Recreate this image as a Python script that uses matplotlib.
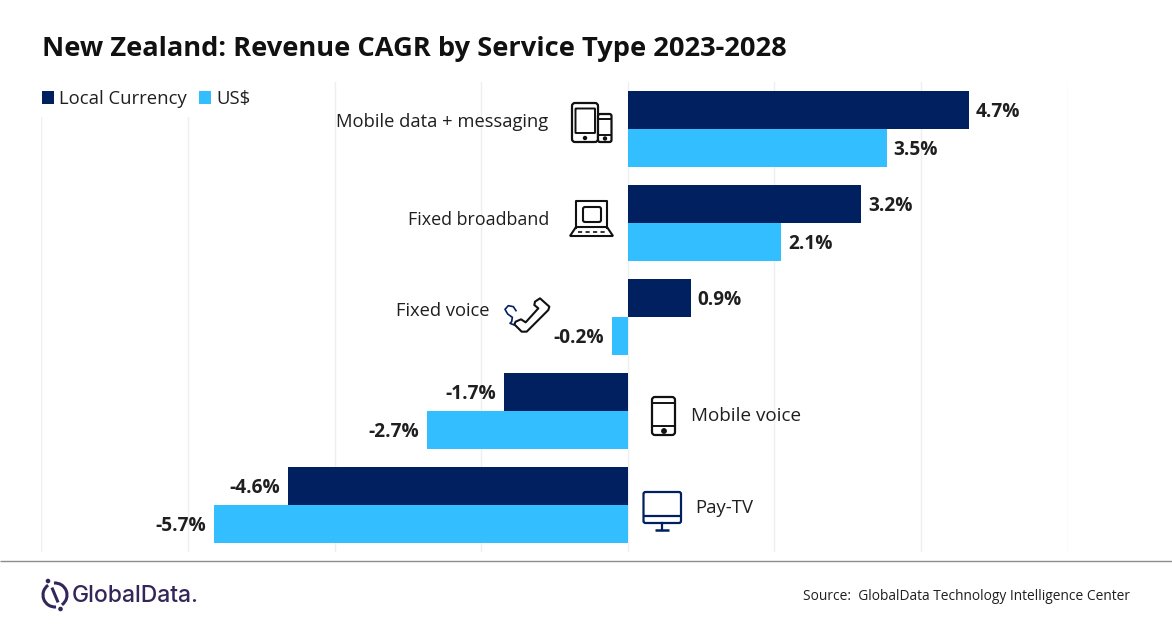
import numpy as np
import matplotlib
matplotlib.use("Agg")
import matplotlib.pyplot as plt
from matplotlib.patches import FancyBboxPatch, Polygon, Circle, Arc, Rectangle

plt.rcParams["font.family"] = ["Open Sans", "DejaVu Sans"]

categories = ["Mobile data + messaging", "Fixed broadband", "Fixed voice", "Mobile voice", "Pay-TV"]
local_currency = [4.65, 3.18, 0.86, -1.69, -4.64]
us_dollar = [3.53, 2.09, -0.22, -2.74, -5.65]
local_labels = ["4.7%", "3.2%", "0.9%", "-1.7%", "-4.6%"]
us_labels = ["3.5%", "2.1%", "-0.2%", "-2.7%", "-5.7%"]

NAVY = "#002060"
SKY = "#33BFFF"
TEXT = "#1f1f1f"
INK = "#111111"

W, H = 1172, 628
fig = plt.figure(figsize=(W / 100, H / 100), dpi=100, facecolor="white")
ax = fig.add_axes([41.4 / W, 1 - 552 / H, (1068.4 - 41.4) / W, (552 - 82) / H])

y = np.arange(len(categories))
bar_h = 38 / 94
b1 = ax.barh(y - bar_h / 2, local_currency, bar_h, color=NAVY, label="Local Currency", zorder=3)
b2 = ax.barh(y + bar_h / 2, us_dollar, bar_h, color=SKY, label="US$", zorder=3)

ax.set_xlim(-8, 6.01)
ax.set_ylim(len(categories) - 0.5, -0.5)
ax.set_xticks(np.arange(-8, 7, 2))
ax.set_yticks([])
ax.tick_params(bottom=False, labelbottom=False)
ax.grid(axis="x", color="#efefef", linewidth=1, zorder=0)
ax.set_axisbelow(True)
for s in ax.spines.values():
    s.set_visible(False)

# legend sits on a white patch that hides the first gridlines
ax.add_patch(Rectangle((30 / W, 1 - 117 / H), 230 / W, 40 / H, transform=fig.transFigure, fc="white", ec="none",
                       zorder=1, clip_on=False))

for bars, labels in ((b1, local_labels), (b2, us_labels)):
    for r, lab in zip(bars, labels):
        v = r.get_width()
        ax.annotate(lab, (v, r.get_y() + r.get_height() / 2 + 0.02), xytext=(5 if v > 0 else -5.5, 0),
                    textcoords="offset points", ha="left" if v > 0 else "right", va="center",
                    fontsize=13.7, fontweight="bold", color=TEXT, zorder=4)

leg = ax.legend(loc="upper left", bbox_to_anchor=(-0.0076, 1.0), ncol=2, frameon=False, fontsize=13.3,
                handlelength=0.68, handleheight=0.68, handletextpad=0.27, columnspacing=0.62,
                borderpad=0.0, borderaxespad=0.45)
for t in leg.get_texts():
    t.set_color(TEXT)

# overlay in image pixels for the title, captions, icons and footer
ov = fig.add_axes([0, 0, 1, 1], zorder=5)
ov.set_xlim(0, W)
ov.set_ylim(H, 0)
ov.axis("off")

ov.text(42, 49, "New Zealand: Revenue CAGR by Service Type 2023-2028", fontsize=19.58, fontweight="bold",
        color="#111111", va="center", ha="left")

ov.text(548, 122, categories[0], fontsize=13.2, color=TEXT, ha="right", va="center")
ov.text(549, 220, categories[1], fontsize=12.9, color=TEXT, ha="right", va="center")
ov.text(489, 311, categories[2], fontsize=13.2, color=TEXT, ha="right", va="center")
ov.text(691, 416, categories[3], fontsize=13.6, color=TEXT, ha="left", va="center")
ov.text(695, 508, categories[4], fontsize=13.3, color=TEXT, ha="left", va="center")


def rbox(x0, y0, x1, y1, r=2, color=INK, lw=1.6, fc="white"):
    ov.add_patch(FancyBboxPatch((x0 + r, y0 + r), x1 - x0 - 2 * r, y1 - y0 - 2 * r,
                                boxstyle="round,pad=%s,rounding_size=%s" % (r, r),
                                fc=fc, ec=color, lw=lw))


def hline(x0, x1, yy, color=INK, lw=1.4, **kw):
    ov.plot([x0, x1], [yy, yy], color=color, lw=lw, solid_capstyle="butt", **kw)


# tablet + phone
rbox(572, 103, 598, 142, r=3)
rbox(575.5, 108.5, 595, 133, r=0.5, lw=1.4)
ov.add_patch(Circle((585, 138), 1.5, color=INK))
rbox(598, 114, 611.5, 142, r=2)
hline(598, 611.5, 118.5)
hline(598, 611.5, 135)
ov.add_patch(Circle((605, 138.5), 1.5, color=INK))

# laptop
ov.plot([576, 576, 607, 607], [228, 201, 201, 228], color=INK, lw=1.5)
rbox(583, 207, 601, 222, r=2, lw=1.5)
ov.add_patch(Polygon([(576, 227), (607, 227), (613, 236), (570, 236)], closed=True, fc="white", ec=INK, lw=1.5))
ov.plot([578, 606], [231.5, 231.5], color=INK, lw=1.2, ls=(0, (2.5, 2)))

# handset with its cord
hand = [(135, 25), (163, 50), (160, 60), (95, 125), (80, 125), (58, 103), (62, 95), (78, 88), (92, 97),
        (130, 55), (118, 45), (120, 35)]
ov.add_patch(Polygon([(495 + a / 3, 290 + b / 3) for a, b in hand], closed=True, fc="white", ec=INK, lw=1.5,
                     joinstyle="round"))
cord = [(63, 62), (55, 50), (40, 47), (30, 58), (38, 72), (52, 82), (50, 95), (45, 100), (58, 105)]
ov.plot([495 + a / 3 for a, b in cord], [290 + b / 3 for a, b in cord], color=NAVY, lw=1.2)

# mobile
rbox(652, 397, 675, 435, r=3)
hline(652, 675, 403)
hline(652, 675, 426)
ov.add_patch(Circle((664, 431), 2.2, color=INK))

# monitor
rbox(643.5, 492, 681, 523, r=2, color=NAVY, lw=1.6)
hline(643.5, 681, 516, color=NAVY, lw=1.6)
ov.plot([662, 662], [523, 530], color=NAVY, lw=1.6)
hline(655, 669, 530, color=NAVY, lw=1.8)

# footer
hline(0, W, 561, color="#8c8c8c", lw=1)
LOGO = "#35265a"
ov.add_patch(Arc((55, 595), 24, 24, theta1=-95, theta2=55, ec=LOGO, lw=2.2))
ov.add_patch(Arc((55, 595), 24, 24, theta1=85, theta2=235, ec=LOGO, lw=2.2))
ov.plot([52.5, 57.5], [589, 601], color=LOGO, lw=2.2)
ov.add_patch(Circle((48, 581), 1.6, color=LOGO))
ov.add_patch(Circle((60.5, 609), 1.6, color=LOGO))
ov.text(72, 596, "GlobalData.", fontsize=16.5, fontweight="medium", color=LOGO, ha="left", va="center",
        family=["Inter", "DejaVu Sans"])
ov.text(1130, 596, "Source:  GlobalData Technology Intelligence Center", fontsize=9.95, color=TEXT,
        ha="right", va="center")

fig.savefig("out.png", dpi=100)
